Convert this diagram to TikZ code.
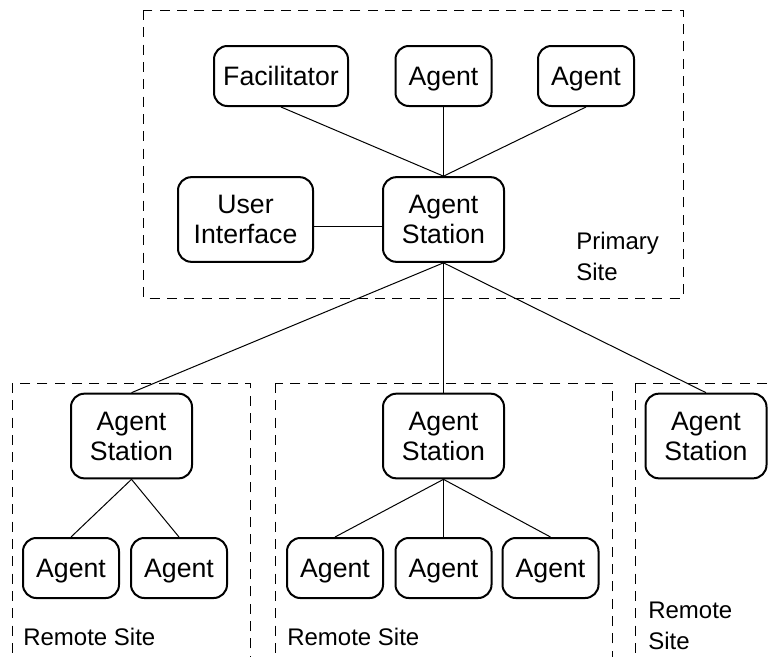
\documentclass[tikz,border=0pt]{standalone}
\usepackage{fontspec}
\setmainfont{Liberation Sans}
\begin{document}
\begin{tikzpicture}[x=0.75pt,y=-0.75pt,
  box/.style={draw,line width=1.5pt,rounded corners=10pt,align=center,
    inner sep=0pt,text depth=0pt,font=\fontsize{20pt}{22.5pt}\selectfont},
  small/.style={box,minimum width=72pt,minimum height=45pt},
  wide/.style={box,minimum width=100.5pt,minimum height=45pt},
  stationbox/.style={box,minimum width=90.75pt,minimum height=63.5pt},
  uibox/.style={box,minimum width=101.25pt,minimum height=63.5pt},
  link/.style={line width=0.75pt},
  site/.style={draw,line width=0.75pt,dash pattern=on 7.5pt off 5.5pt},
  sitelabel/.style={inner sep=0pt,align=left,font=\fontsize{18pt}{23.25pt}\selectfont}]
\useasboundingbox (0,0) rectangle (768,657);
\clip (0,0) rectangle (768,657);

% site boundaries
\draw[site] (143,10) rectangle (683,298);
\draw[site] (12,383) rectangle (250,700);
\draw[site] (275,383) rectangle (612,700);
\draw[site] (635,383) rectangle (800,700);

% primary site
\node[wide]  (fac) at (281,76) {Facilitator};
\node[small] (pa1) at (443.5,76) {Agent};
\node[small] (pa2) at (586,76) {Agent};
\node[uibox] (ui)  at (245.5,219.5) {User\\Interface};
\node[stationbox] (pas) at (443.5,219.5) {Agent\\Station};
\node[sitelabel,anchor=north west] (plabel) at (576,232) {Primary\\Site};

% remote sites
\node[stationbox] (ras1) at (131.5,436) {Agent\\Station};
\node[stationbox] (ras2) at (443.5,436) {Agent\\Station};
\node[stationbox] (ras3) at (706,436) {Agent\\Station};

\node[small] (ra1) at (71,568) {Agent};
\node[small] (ra2) at (179,568) {Agent};
\node[small] (rb1) at (335,568) {Agent};
\node[small] (rb2) at (443.5,568) {Agent};
\node[small] (rb3) at (550.5,568) {Agent};

\node[sitelabel,anchor=base west] (rl1) at (23,645) {Remote Site};
\node[sitelabel,anchor=base west] (rl2) at (287,645) {Remote Site};
\node[sitelabel,anchor=north west] (rl3) at (648,602) {Remote\\Site};

% connections
\draw[link] (fac.south) -- (pas.north);
\draw[link] (pa1.south) -- (pas.north);
\draw[link] (pa2.south) -- (pas.north);
\draw[link] ([yshift=-5pt]ui.east) -- ([yshift=-5pt]pas.west);
\draw[link] (pas.south) -- (ras1.north);
\draw[link] (pas.south) -- (ras2.north);
\draw[link] (pas.south) -- (ras3.north);
\draw[link] (ras1.south) -- (ra1.north);
\draw[link] (ras1.south) -- (ra2.north);
\draw[link] (ras2.south) -- (rb1.north);
\draw[link] (ras2.south) -- (rb2.north);
\draw[link] (ras2.south) -- (rb3.north);
\end{tikzpicture}
\end{document}
